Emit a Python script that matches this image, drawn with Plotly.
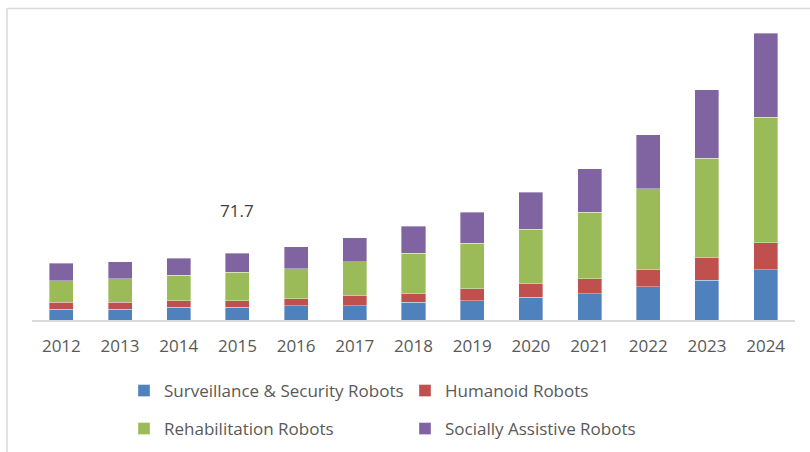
import plotly.graph_objects as go

years = ["2012", "2013", "2014", "2015", "2016", "2017", "2018",
         "2019", "2020", "2021", "2022", "2023", "2024"]
surveillance = [11.5, 11.5, 13.6, 13.7, 15.4, 15.4, 19.0, 20.7, 24.4, 28.3, 35.5, 42.7, 53.8]
humanoid = [7.5, 7.5, 7.1, 7.1, 7.2, 11.2, 9.2, 12.9, 14.6, 16.1, 18.3, 24.0, 29.0]
rehabilitation = [23.2, 25.4, 27.3, 30.8, 32.6, 35.8, 43.4, 49.1, 58.5, 71.4, 87.1, 107.2, 135.1]
social = [18.7, 18.3, 18.3, 20.1, 23.6, 25.8, 29.3, 33.0, 39.8, 46.9, 58.4, 73.4, 90.6]

series_names = ["Surveillance & Security Robots", "Humanoid Robots",
                "Rehabilitation Robots", "Socially Assistive Robots"]
colors = ["#4F81BD", "#C0504D", "#9BBB59", "#8064A2"]
legends = ["legend", "legend", "legend2", "legend2"]
label_year = "2015"
label_text = "71.7"

W, H = 810, 452
ml, mr, mt, mb = 32, 15, 20, 132
pw, ph = W - ml - mr, H - mt - mb
yscale = 66.7 / 71.7  # px per unit

fig = go.Figure()
for name, vals, col, lg in zip(series_names, [surveillance, humanoid, rehabilitation, social], colors, legends):
    fig.add_trace(go.Bar(
        x=years, y=vals, name=name, legend=lg,
        marker=dict(color=col, line=dict(color="rgba(255,255,255,0.6)", width=0.6)),
        width=0.41,
    ))

font_family = "Open Sans, Lato, sans-serif"
text_col = "#595959"

legend_common = dict(
    orientation="h", xref="container", yref="container",
    xanchor="left", yanchor="middle",
    entrywidth=236, font=dict(size=17, color=text_col, family=font_family),
    bgcolor="rgba(0,0,0,0)", traceorder="normal",
)

fig.update_layout(
    width=W, height=H,
    barmode="stack",
    margin=dict(l=ml, r=mr, t=mt, b=mb),
    paper_bgcolor="white", plot_bgcolor="white",
    font=dict(family=font_family, color=text_col),
    xaxis=dict(
        type="category", showline=True, linecolor="#d9d9d9", linewidth=1.5,
        showgrid=False, ticks="outside", ticklen=10, tickcolor="rgba(0,0,0,0)",
        tickfont=dict(size=17, color=text_col, family=font_family),
        range=[-0.5, 12.5],
    ),
    yaxis=dict(visible=False, range=[0, ph / yscale]),
    legend=dict(legend_common, x=124 / W, y=1 - 391 / H),
    legend2=dict(legend_common, x=124 / W, y=1 - 429 / H),
    showlegend=True,
)

idx = years.index(label_year)
total = surveillance[idx] + humanoid[idx] + rehabilitation[idx] + social[idx]
fig.add_annotation(xref="paper", yref="y",
                   x=(idx + 0.5) / len(years), y=total, text=label_text, showarrow=False,
                   xanchor="center", yanchor="bottom", yshift=29,
                   font=dict(size=17, color="#404040", family=font_family))

# chart border (top and left edges visible in the reference)
def px_to_x(px):
    return (px - ml) / pw

def py_to_y(py):
    return (H - mb - py) / ph

border = "#d9d9d9"
fig.add_shape(type="line", xref="paper", yref="paper",
              x0=px_to_x(7), x1=px_to_x(812), y0=py_to_y(8.5), y1=py_to_y(8.5),
              line=dict(color=border, width=1.5))
fig.add_shape(type="line", xref="paper", yref="paper",
              x0=px_to_x(7), x1=px_to_x(7), y0=py_to_y(8.5), y1=py_to_y(455),
              line=dict(color=border, width=1.5))

fig.write_html("out.html")
